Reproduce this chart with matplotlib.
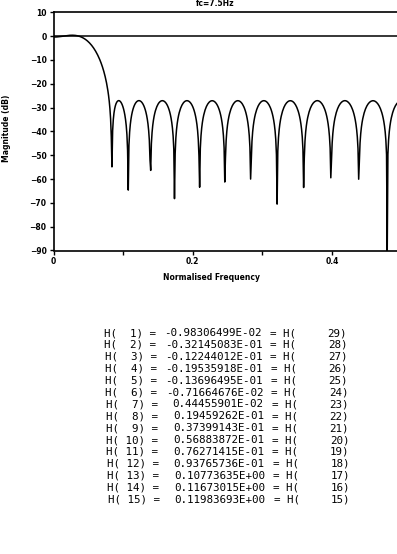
import numpy as np
import matplotlib
matplotlib.use("Agg")
import matplotlib.pyplot as plt

# filter coefficients H(1)..H(15), symmetric: H(n) = H(30-n)
coef_idx = list(range(1, 16))
coef_vals = [-0.98306499e-02, -0.32145083e-01, -0.12244012e-01, -0.19535918e-01,
             -0.13696495e-01, -0.71664676e-02, 0.44455901e-02, 0.19459262e-01,
             0.37399143e-01, 0.56883872e-01, 0.76271415e-01, 0.93765736e-01,
             0.10773635e+00, 0.11673015e+00, 0.11983693e+00]
mirror_idx = [30 - i for i in coef_idx]

title_txt = "fc=7.5Hz"
x_ticks = [0, 0.1, 0.2, 0.3, 0.4]
x_ticklabels = ["0", "", "0.2", "", "0.4"]
y_ticks = list(range(10, -100, -10))

n_fft = 1024


def fortran_e(v):
    e = int(np.floor(np.log10(abs(v)))) + 1
    m = v / 10.0 ** e
    return "%.8f" % m + "E%+03d" % e


# full impulse response and its magnitude
h = np.array(coef_vals + coef_vals[-2::-1])
H = np.fft.rfft(h, n_fft)
freq = np.fft.rfftfreq(n_fft)
mag_db = 20 * np.log10(np.abs(H) + 1e-12)

W, Ht = 397, 554
fig = plt.figure(figsize=(W / 100, Ht / 100), dpi=100)
ax = fig.add_axes([53.5 / W, 1 - 250.5 / Ht, 348 / W, (250.5 - 12.3) / Ht])

ax.plot(freq, mag_db, color="black", lw=1.1)
ax.axhline(0, color="black", lw=1.1)
ax.set_xlim(0, 0.5)
ax.set_ylim(-90, 10)
ax.set_xticks(x_ticks)
ax.set_xticklabels(x_ticklabels)
ax.set_yticks(y_ticks)
ax.spines["right"].set_visible(False)
for s in ["left", "bottom", "top"]:
    ax.spines[s].set_linewidth(1.2)
ax.tick_params(axis="both", direction="out", length=3, width=1.0, labelsize=5.5, pad=2)
for lab in ax.get_xticklabels() + ax.get_yticklabels():
    lab.set_fontweight("bold")

fig.text(215 / W, 1 - 4 / Ht, title_txt, ha="center", va="center", fontsize=5.5, fontweight="bold")
fig.text(212 / W, 1 - 278 / Ht, "Normalised Frequency", ha="center", va="center",
         fontsize=5.5, fontweight="bold")
fig.text(7 / W, 1 - 128 / Ht, "Magnitude (dB)", ha="center", va="center",
         rotation=90, fontsize=5.5, fontweight="bold")

# coefficient listing
mono = "DejaVu Sans Mono"
for k, (i, v, j) in enumerate(zip(coef_idx, coef_vals, mirror_idx)):
    y = 1 - (333 + k * 11.9) / Ht
    dx = k * 0.25
    fig.text((104 + dx) / W, y, "H(%3d) =" % i, ha="left", va="center", fontsize=7.8, family=mono)
    fig.text((262 + dx) / W, y, fortran_e(v), ha="right", va="center", fontsize=7.8, family=mono)
    fig.text((270 + dx) / W, y, "= H(", ha="left", va="center", fontsize=7.8, family=mono)
    fig.text((347 + dx) / W, y, "%d)" % j, ha="right", va="center", fontsize=7.8, family=mono)

fig.savefig("out.png", dpi=100)
